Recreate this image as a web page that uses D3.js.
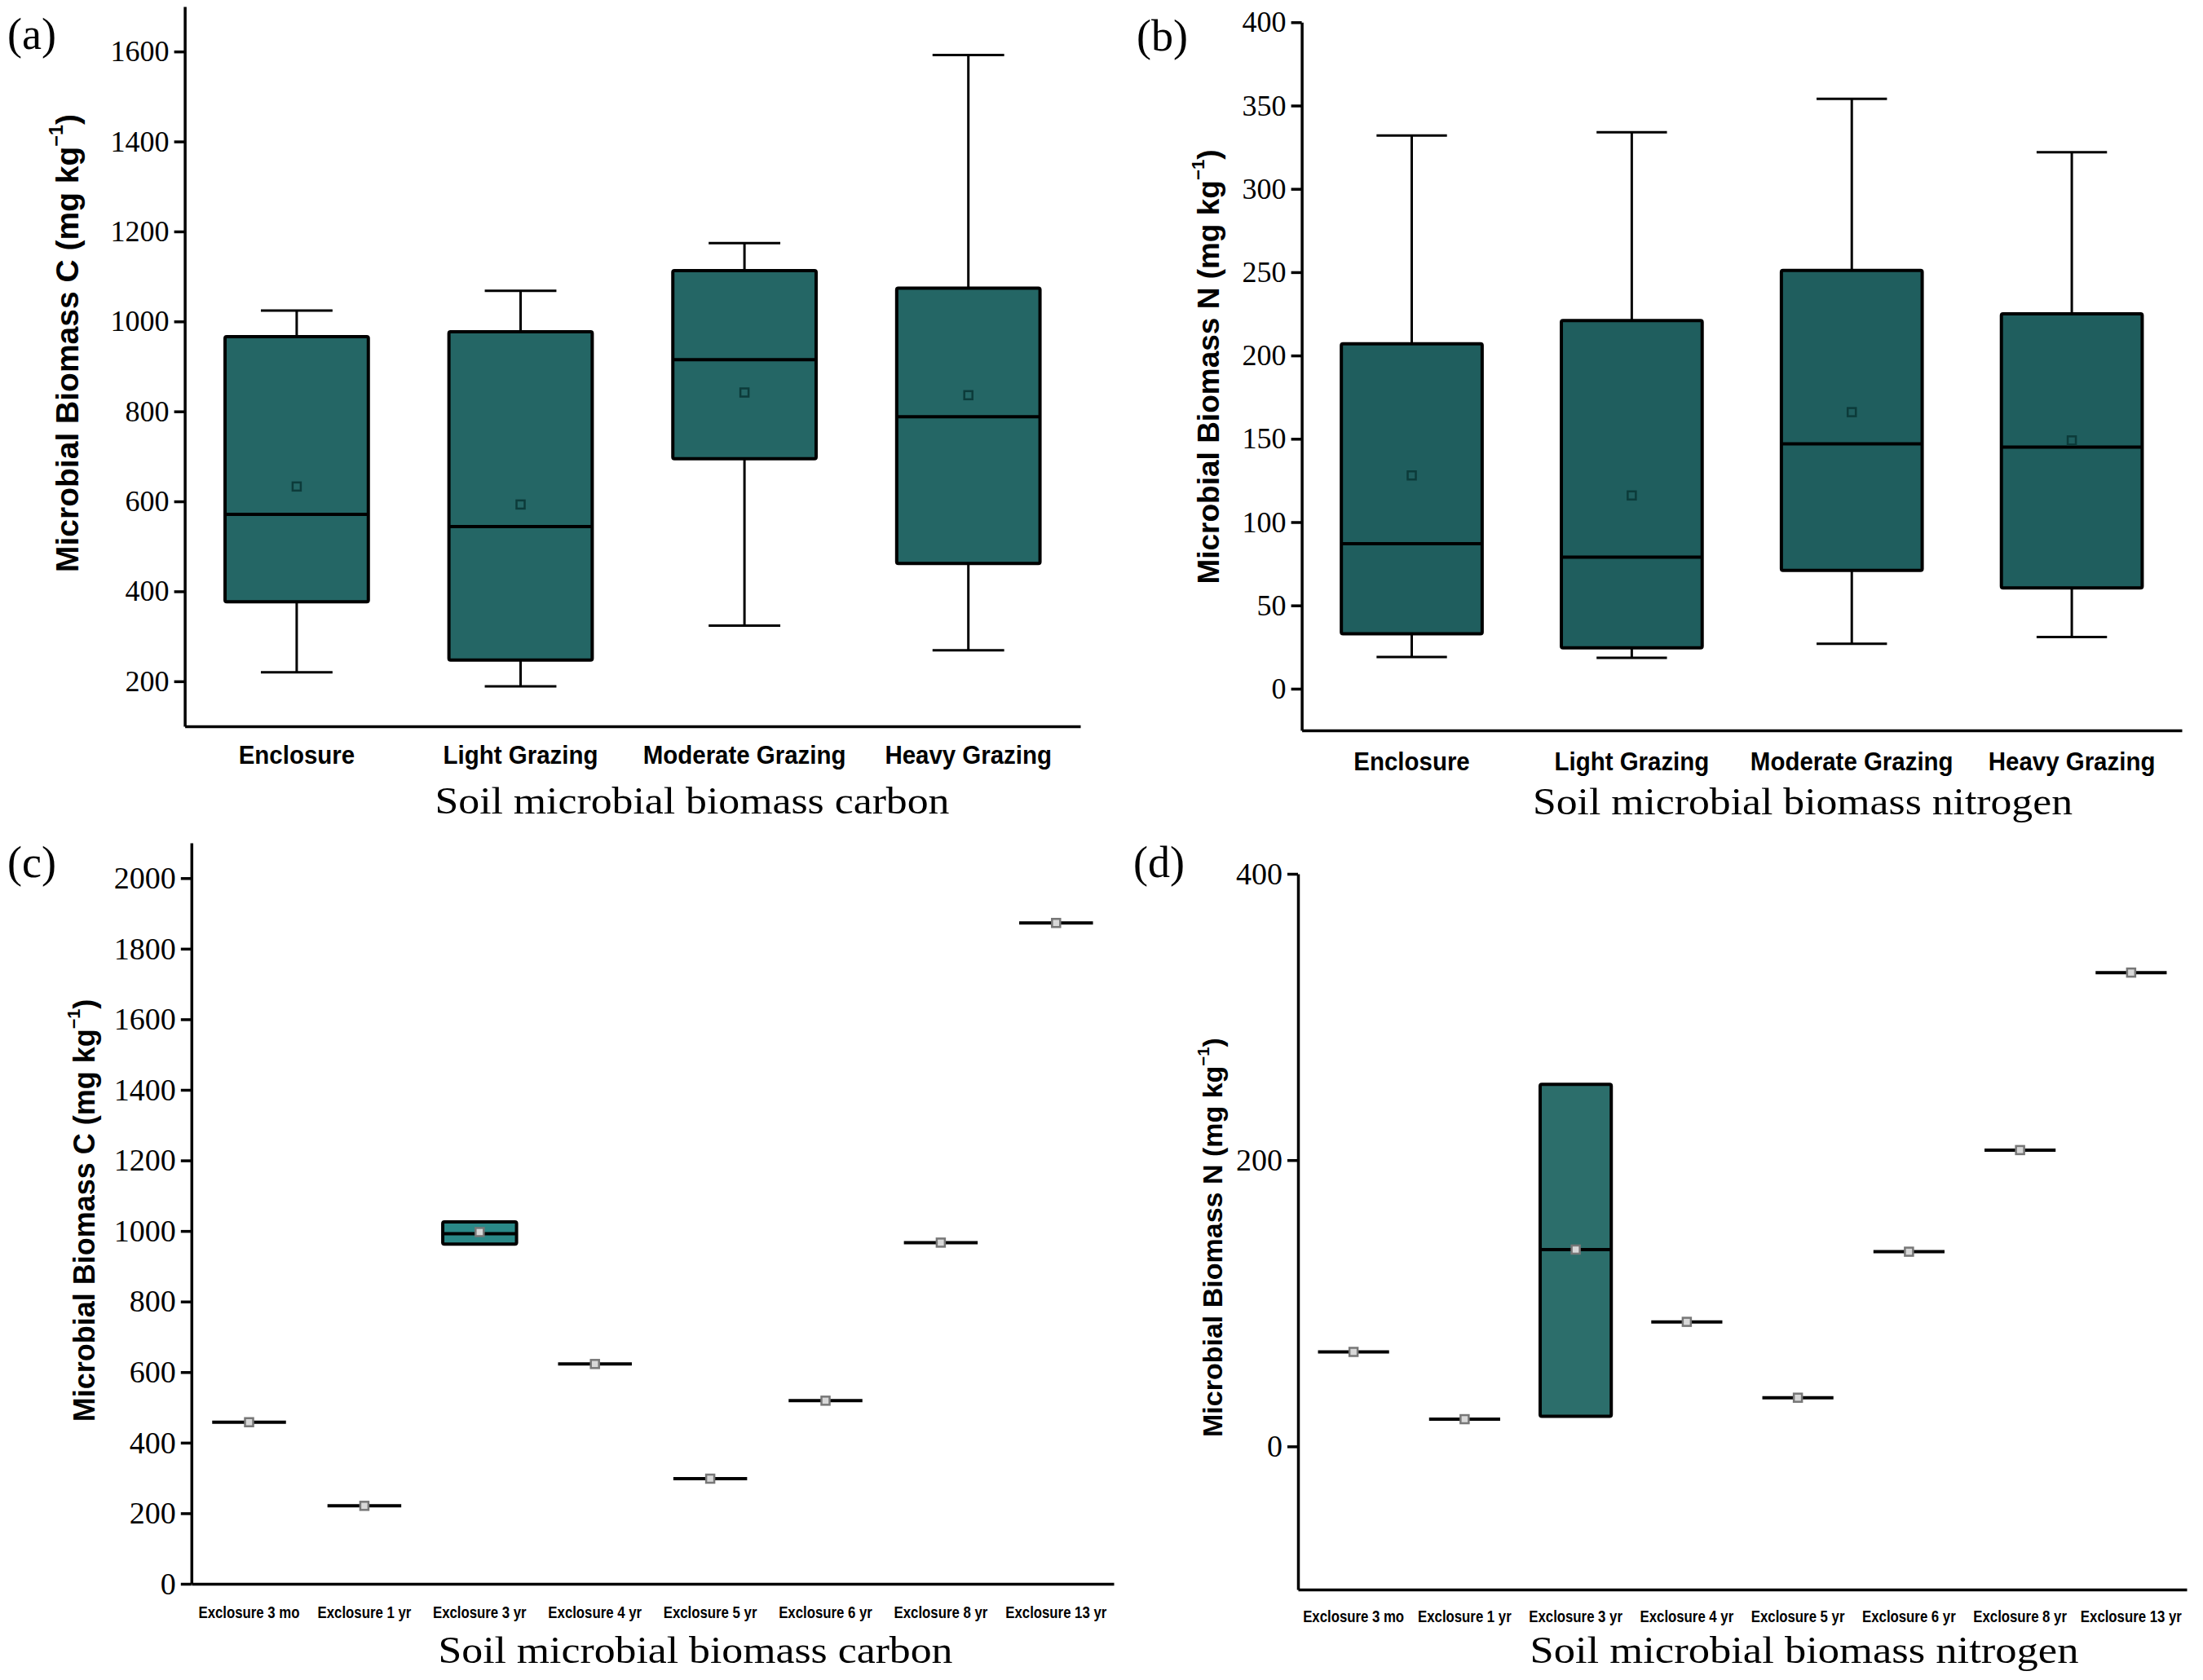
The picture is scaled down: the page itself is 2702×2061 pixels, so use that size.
<!DOCTYPE html>
<html>
<head>
<meta charset="utf-8">
<script src="https://cdn.jsdelivr.net/npm/d3@7"></script>
<style>
  body { margin: 0; background: #fff; }
</style>
</head>
<body>
<div id="plot"></div>
<script>
// categories
var grazingCats = ["Enclosure", "Light Grazing", "Moderate Grazing", "Heavy Grazing"];
var exclosureCats = ["Exclosure 3 mo", "Exclosure 1 yr", "Exclosure 3 yr", "Exclosure 4 yr",
  "Exclosure 5 yr", "Exclosure 6 yr", "Exclosure 8 yr", "Exclosure 13 yr"];

// (a) microbial biomass C by grazing intensity
var grazC_min  = [220, 189, 324, 269];
var grazC_q1   = [377, 247, 695, 462];
var grazC_med  = [571, 544, 915, 788];
var grazC_q3   = [966, 977, 1113, 1074];
var grazC_max  = [1024, 1068, 1174, 1592];
var grazC_mean = [633, 593, 842, 836];

// (b) microbial biomass N by grazing intensity
var grazN_min  = [19, 18.5, 27, 31];
var grazN_q1   = [33, 24.5, 71, 60.5];
var grazN_med  = [87, 79, 147, 145];
var grazN_q3   = [207, 221, 251, 225];
var grazN_max  = [332, 334, 354, 322];
var grazN_mean = [128, 116, 166, 149];

// (c) microbial biomass C by exclosure age
var exclC_q1   = [458, 221, 963, 623, 298, 519, 967, 1873];
var exclC_med  = [458, 221, 992, 623, 298, 519, 967, 1873];
var exclC_q3   = [458, 221, 1026, 623, 298, 519, 967, 1873];
var exclC_mean = [458, 221, 997, 623, 298, 519, 967, 1873];

// (d) microbial biomass N by exclosure age
var exclN_q1   = [66, 19, 21, 87, 34, 136, 207, 331];
var exclN_med  = [66, 19, 137.5, 87, 34, 136, 207, 331];
var exclN_q3   = [66, 19, 253, 87, 34, 136, 207, 331];
var exclN_mean = [66, 19, 137.5, 87, 34, 136, 207, 331];

// tick labels
var ticksA = [200, 400, 600, 800, 1000, 1200, 1400, 1600];
var ticksB = [0, 50, 100, 150, 200, 250, 300, 350, 400];
var ticksC = [0, 200, 400, 600, 800, 1000, 1200, 1400, 1600, 1800, 2000];
var ticksD = [0, 200, 400];

var svgWidth = 2702;
var svgHeight = 2061;

var svg = d3.select("#plot")
  .append("svg")
  .attr("width", svgWidth)
  .attr("height", svgHeight)
  .style("background", "#fff");

var serif = "'Liberation Serif', 'Times New Roman', serif";
var sans = "'Liberation Sans', Arial, sans-serif";

function drawPanel(p) {
  var g = svg.append("g");

  var x = d3.scaleBand().domain(p.cats).range([p.left, p.right]);
  var y = d3.scaleLinear().domain(p.domain).range([p.bottom, p.top]);
  var boxW = x.bandwidth() * 0.64;

  var rows = p.cats.map(function(c, i) {
    return {
      cat: c,
      min: p.min ? p.min[i] : null,
      q1: p.q1[i], med: p.med[i], q3: p.q3[i],
      max: p.max ? p.max[i] : null,
      mean: p.mean[i]
    };
  });
  var cx = function(d) { return x(d.cat) + x.bandwidth() / 2; };

  // whiskers
  if (p.min) {
    var wg = g.append("g").attr("stroke", "#000").attr("stroke-width", 3);
    wg.selectAll(".whisk-up").data(rows).enter().append("line")
      .attr("x1", cx).attr("x2", cx)
      .attr("y1", d => y(d.q3)).attr("y2", d => y(d.max));
    wg.selectAll(".whisk-dn").data(rows).enter().append("line")
      .attr("x1", cx).attr("x2", cx)
      .attr("y1", d => y(d.q1)).attr("y2", d => y(d.min));
    wg.selectAll(".cap-up").data(rows).enter().append("line")
      .attr("x1", d => cx(d) - boxW / 4).attr("x2", d => cx(d) + boxW / 4)
      .attr("y1", d => y(d.max)).attr("y2", d => y(d.max));
    wg.selectAll(".cap-dn").data(rows).enter().append("line")
      .attr("x1", d => cx(d) - boxW / 4).attr("x2", d => cx(d) + boxW / 4)
      .attr("y1", d => y(d.min)).attr("y2", d => y(d.min));
  }

  // boxes (only where there is a spread)
  g.selectAll(".box").data(rows.filter(d => d.q3 > d.q1)).enter().append("rect")
    .attr("x", d => cx(d) - boxW / 2)
    .attr("width", boxW)
    .attr("y", d => y(d.q3))
    .attr("height", d => y(d.q1) - y(d.q3))
    .attr("fill", p.fill)
    .attr("stroke", "#000")
    .attr("stroke-width", 4)
    .attr("rx", 2);

  // medians
  g.selectAll(".med").data(rows).enter().append("line")
    .attr("x1", d => cx(d) - boxW / 2).attr("x2", d => cx(d) + boxW / 2)
    .attr("y1", d => y(d.med)).attr("y2", d => y(d.med))
    .attr("stroke", "#000")
    .attr("stroke-width", 4);

  // means
  g.selectAll(".mean").data(rows).enter().append("rect")
    .attr("x", d => cx(d) - 5)
    .attr("y", d => y(d.mean) - 5)
    .attr("width", 10).attr("height", 10)
    .attr("fill", p.meanFill)
    .attr("stroke", p.meanStroke)
    .attr("stroke-width", 2.5);

  // y axis
  var yAxis = g.append("g")
    .attr("transform", `translate(${p.left}, 0)`)
    .call(d3.axisLeft(y).tickValues(p.ticks).tickFormat(d3.format("d"))
      .tickSize(13).tickSizeOuter(0).tickPadding(6));
  yAxis.select(".domain").attr("stroke-width", 3.5);
  yAxis.selectAll(".tick line").attr("stroke-width", 3.5);
  yAxis.selectAll(".tick text")
    .attr("font-family", serif)
    .attr("font-size", p.tickFont + "px")
    .attr("fill", "#000");

  // x axis
  var xAxis = g.append("g")
    .attr("transform", `translate(0, ${p.bottom})`)
    .call(d3.axisBottom(x).tickSize(0).tickSizeOuter(0).tickPadding(p.labelPad));
  xAxis.select(".domain").attr("stroke-width", 3.5);
  xAxis.selectAll(".tick text")
    .attr("font-family", sans)
    .attr("font-weight", "bold")
    .attr("font-size", p.catFont + "px")
    .attr("fill", "#000")
    .each(function() {
      // labels in the source are set in a condensed face
      var len = this.getComputedTextLength();
      d3.select(this)
        .attr("textLength", len * p.squeeze)
        .attr("lengthAdjust", "spacingAndGlyphs");
    });

  // y label
  var yl = g.append("text")
    .attr("transform", `translate(${p.ylabX}, ${p.ylabY}) rotate(-90)`)
    .attr("text-anchor", "middle")
    .attr("dominant-baseline", "central")
    .attr("font-family", sans)
    .attr("font-weight", "bold")
    .attr("font-size", p.ylabFont + "px");
  yl.append("tspan").text(p.ylab + " (mg kg");
  yl.append("tspan").attr("baseline-shift", "super").attr("font-size", (p.ylabFont * 0.6) + "px").text("−1");
  yl.append("tspan").text(")");

  // title
  g.append("text")
    .attr("x", p.titleX)
    .attr("y", p.titleY)
    .attr("text-anchor", "middle")
    .attr("font-family", serif)
    .attr("font-size", "47px")
    .attr("textLength", p.titleW)
    .attr("lengthAdjust", "spacingAndGlyphs")
    .text(p.title);

  // panel letter
  g.append("text")
    .attr("x", p.letterX)
    .attr("y", p.letterY)
    .attr("font-family", serif)
    .attr("font-size", "54px")
    .text(p.letter);
}

drawPanel({
  cats: grazingCats, min: grazC_min, q1: grazC_q1, med: grazC_med, q3: grazC_q3, max: grazC_max, mean: grazC_mean,
  left: 226.6, right: 1325, top: 8, bottom: 891, domain: [100, 1700], ticks: ticksA,
  fill: "#246665", meanFill: "#246665", meanStroke: "#0c3b3a",
  tickFont: 36, catFont: 31, labelPad: 24, squeeze: 0.95,
  ylab: "Microbial Biomass C", ylabX: 82, ylabY: 421, ylabFont: 39,
  title: "Soil microbial biomass carbon", titleX: 849, titleY: 998, titleW: 631,
  letter: "(a)", letterX: 9, letterY: 60
});

drawPanel({
  cats: grazingCats, min: grazN_min, q1: grazN_q1, med: grazN_med, q3: grazN_q3, max: grazN_max, mean: grazN_mean,
  left: 1596.6, right: 2676, top: 27.3, bottom: 896, domain: [-25, 400], ticks: ticksB,
  fill: "#1f5e5e", meanFill: "#1f5e5e", meanStroke: "#0c3b3a",
  tickFont: 36, catFont: 31, labelPad: 27, squeeze: 0.95,
  ylab: "Microbial Biomass N", ylabX: 1482, ylabY: 450, ylabFont: 37,
  title: "Soil microbial biomass nitrogen", titleX: 2211, titleY: 999, titleW: 662,
  letter: "(b)", letterX: 1394, letterY: 62
});

drawPanel({
  cats: exclosureCats, q1: exclC_q1, med: exclC_med, q3: exclC_q3, mean: exclC_mean,
  left: 234.8, right: 1366, top: 1034, bottom: 1943, domain: [0, 2100], ticks: ticksC,
  fill: "#2a8887", meanFill: "#d8d8d8", meanStroke: "#777",
  tickFont: 38, catFont: 19.5, labelPad: 28, squeeze: 0.86,
  ylab: "Microbial Biomass C", ylabX: 103, ylabY: 1485, ylabFont: 36,
  title: "Soil microbial biomass carbon", titleX: 853, titleY: 2040, titleW: 631,
  letter: "(c)", letterX: 9, letterY: 1076
});

drawPanel({
  cats: exclosureCats, q1: exclN_q1, med: exclN_med, q3: exclN_q3, mean: exclN_mean,
  left: 1592, right: 2682, top: 1072, bottom: 1950, domain: [-100, 400], ticks: ticksD,
  fill: "#2c6e6b", meanFill: "#d8d8d8", meanStroke: "#777",
  tickFont: 38, catFont: 19.5, labelPad: 26, squeeze: 0.86,
  ylab: "Microbial Biomass N", ylabX: 1487, ylabY: 1518, ylabFont: 34,
  title: "Soil microbial biomass nitrogen", titleX: 2213, titleY: 2040, titleW: 673,
  letter: "(d)", letterX: 1390, letterY: 1076
});
</script>
</body>
</html>
